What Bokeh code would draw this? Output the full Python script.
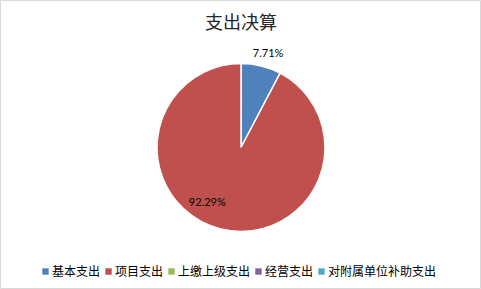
import numpy as np
from bokeh.plotting import figure
from bokeh.models import Range1d, Legend, LegendItem, ColumnDataSource
from bokeh.core.properties import value
from bokeh.embed import file_html
from bokeh.resources import INLINE

# ---- data ----
title_text = "支出决算"
categories = ["基本支出", "项目支出", "上缴上级支出", "经营支出", "对附属单位补助支出"]
shares = [7.71, 92.29, 0.0, 0.0, 0.0]
colors = ["#4F81BD", "#C0504D", "#9BBB59", "#8064A2", "#4BACC6"]

# ---- layout ----
W, H = 481, 289
cx, cy_px, R = 240.5, 147.0, 84
cy = H - cy_px

p = figure(width=W, height=H, output_backend="svg", toolbar_location=None,
           x_range=Range1d(0, W), y_range=Range1d(0, H),
           x_axis_location=None, y_axis_location=None, min_border=0,
           background_fill_color="white", border_fill_color="white")
p.grid.visible = False
p.outline_line_color = "#d9d9d9"
p.outline_line_width = 1

vals = np.array(shares, dtype=float)
frac = vals / vals.sum()
cum_end = np.cumsum(frac)
cum_start = cum_end - frac
start = np.pi / 2 - cum_start * 2 * np.pi
end = np.pi / 2 - cum_end * 2 * np.pi

nz = frac > 0
src = ColumnDataSource(dict(x=[cx] * int(nz.sum()), y=[cy] * int(nz.sum()),
                            s=list(start[nz]), e=list(end[nz]),
                            c=[c for c, k in zip(colors, nz) if k]))
p.wedge(x="x", y="y", radius=R, radius_units="screen", start_angle="s", end_angle="e",
        direction="clock", fill_color="c", line_color="white", line_width=1.5, source=src)

# percentage labels (positioned from each slice's mid-angle)
label_style = [(1.18, 2.0), (0.76, 18.0)]  # (radius factor, angle nudge deg)
lx, ly, lt = [], [], []
for i, (f, k) in enumerate(zip(frac, nz)):
    if not k:
        continue
    rf, nudge = label_style[i]
    mid = np.pi / 2 - (cum_start[i] + f / 2) * 2 * np.pi - np.deg2rad(nudge)
    lx.append(cx + rf * R * np.cos(mid))
    ly.append(cy + rf * R * np.sin(mid))
    lt.append(f"{shares[i]:.2f}%")
p.text(x=lx, y=ly, text=lt, text_align="center", text_baseline="middle",
       text_font=value("Lato"), text_font_size="11px", text_color="#000000")

# title
p.text(x=[W / 2], y=[H - 20], text=[title_text], text_align="center", text_baseline="middle",
       text_font=value("Noto Sans CJK SC"), text_font_size="18px", text_color="#262626")

# legend (swatches drawn off-screen so only the legend shows them)
items = []
for name, col in zip(categories, colors):
    r = p.quad(left=[-100], right=[-99], top=[-100], bottom=[-101],
               fill_color=col, line_color=None)
    items.append(LegendItem(label=name, renderers=[r]))
legend = Legend(items=items, orientation="horizontal", location=(41, 10),
                glyph_width=8, glyph_height=8, label_standoff=3, spacing=4,
                padding=0, margin=0, border_line_color=None, background_fill_alpha=0,
                label_text_font="Noto Sans CJK SC", label_text_font_size="12px",
                label_text_color="#000000", label_height=12)
p.add_layout(legend, "center")

open("out.html", "w").write(file_html(p, INLINE))
